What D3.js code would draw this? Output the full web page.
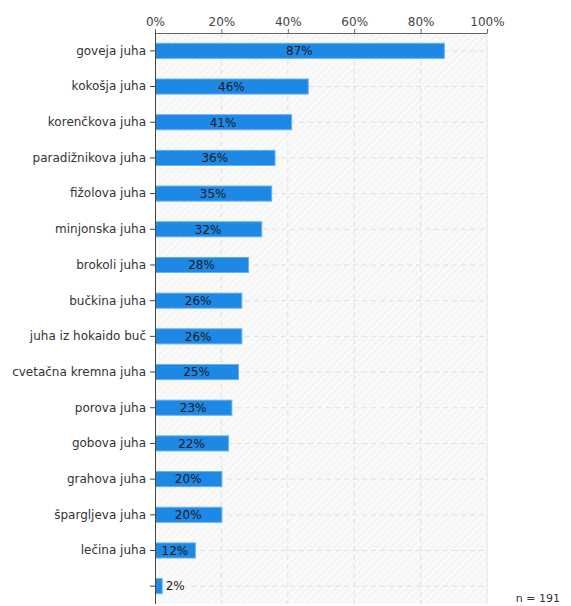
<!DOCTYPE html>
<html>
<head>
<meta charset="utf-8">
<script src="https://cdn.jsdelivr.net/npm/d3@7"></script>
<style>
  body { margin: 0; background: #fff; }
  text { font-family: "DejaVu Sans", Verdana, sans-serif; }
</style>
</head>
<body>
<div id="grafica"></div>
<script>
// data
var categories = ["goveja juha", "kokošja juha", "korenčkova juha", "paradižnikova juha",
  "fižolova juha", "minjonska juha", "brokoli juha", "bučkina juha", "juha iz hokaido buč",
  "cvetačna kremna juha", "porova juha", "gobova juha", "grahova juha", "špargljeva juha",
  "lečina juha", ""];
var values = [87, 46, 41, 36, 35, 32, 28, 26, 26, 25, 23, 22, 20, 20, 12, 2];
var xTicks = [0, 20, 40, 60, 80, 100];
var nText = "n = 191";

var margin = {top: 33, right: 84, bottom: 2, left: 155},
    width = 571 - margin.left - margin.right,
    height = 606 - margin.top - margin.bottom;

var svgRoot = d3.select("#grafica")
  .append("svg")
    .attr("width", 571)
    .attr("height", 606);

// hatched background
var pat = svgRoot.append("defs").append("pattern")
  .attr("id", "hatch")
  .attr("patternUnits", "userSpaceOnUse")
  .attr("width", 5).attr("height", 5)
  .attr("patternTransform", "rotate(45)");
pat.append("rect").attr("width", 5).attr("height", 5).attr("fill", "#fafafa");
pat.append("line").attr("x1", 0).attr("y1", 0).attr("x2", 0).attr("y2", 5)
  .attr("stroke", "#ececec").attr("stroke-width", 1.2);

var svg = svgRoot.append("g")
  .attr("transform", "translate(" + margin.left + "," + margin.top + ")");

var x = d3.scaleLinear().domain([0, 100]).range([0, width]);
var y = d3.scaleBand().domain(d3.range(categories.length)).range([0, height]).paddingInner(0.55).paddingOuter(0.275);

svg.append("rect")
  .attr("width", width).attr("height", height)
  .attr("fill", "url(#hatch)");

// right border
svg.append("line")
  .attr("x1", width).attr("x2", width).attr("y1", 0).attr("y2", height)
  .attr("stroke", "#e2e2e2");

// vertical gridlines
svg.selectAll(".vgrid")
  .data(xTicks.slice(1, -1))
  .enter().append("line")
  .attr("class", "vgrid")
  .attr("x1", function(d) { return x(d); }).attr("x2", function(d) { return x(d); })
  .attr("y1", 0).attr("y2", height)
  .attr("stroke", "#e0e0e0").attr("stroke-dasharray", "5,4");

// horizontal gridlines
svg.selectAll(".hgrid")
  .data(values)
  .enter().append("line")
  .attr("class", "hgrid")
  .attr("x1", 0).attr("x2", width)
  .attr("y1", function(d, i) { return y(i) + y.bandwidth() / 2; })
  .attr("y2", function(d, i) { return y(i) + y.bandwidth() / 2; })
  .attr("stroke", "#e0e0e0").attr("stroke-dasharray", "5,4");

// bars
svg.selectAll(".bar")
  .data(values)
  .enter().append("rect")
  .attr("class", "bar")
  .attr("x", x(0) + 0.5)
  .attr("y", function(d, i) { return y(i) + 0.5; })
  .attr("width", function(d) { return x(d) - x(0); })
  .attr("height", y.bandwidth() - 1)
  .attr("fill", "#1e88e5")
  .attr("stroke", "#64b0f0")
  .attr("stroke-width", 1);

// value labels
svg.selectAll(".lbl")
  .data(values)
  .enter().append("text")
  .attr("class", "lbl")
  .attr("x", function(d) { return d < 8 ? x(d) + 4 : x(d / 2); })
  .attr("y", function(d, i) { return y(i) + y.bandwidth() / 2; })
  .attr("dy", "0.36em")
  .attr("text-anchor", function(d) { return d < 8 ? "start" : "middle"; })
  .style("font-size", "12px")
  .attr("fill", "#1a1a1a")
  .text(function(d) { return d + "%"; });

// top axis
var xAxis = svg.append("g")
  .call(d3.axisTop(x).tickValues(xTicks).tickFormat(function(d) { return d + "%"; }).tickSize(4).tickSizeOuter(0));
xAxis.select(".domain").attr("stroke", "#666");
xAxis.selectAll(".tick line").attr("stroke", "#666");
xAxis.selectAll("text").style("font-size", "12px").attr("fill", "#444")
  .attr("font-family", "DejaVu Sans, Verdana, sans-serif");

// left axis
var yAxis = svg.append("g")
  .call(d3.axisLeft(y).tickFormat(function(i) { return categories[i]; }).tickSize(5).tickSizeOuter(0).tickPadding(4));
yAxis.select(".domain").attr("stroke", "#444").attr("d", "M0.5,0V" + height);
yAxis.selectAll(".tick line").attr("stroke", "#444");
yAxis.selectAll("text").style("font-size", "12px").attr("fill", "#333")
  .attr("font-family", "DejaVu Sans, Verdana, sans-serif");

svgRoot.append("text")
  .attr("x", 560).attr("y", 602)
  .attr("text-anchor", "end")
  .style("font-size", "11px")
  .attr("fill", "#333")
  .text(nText);
</script>
</body>
</html>
